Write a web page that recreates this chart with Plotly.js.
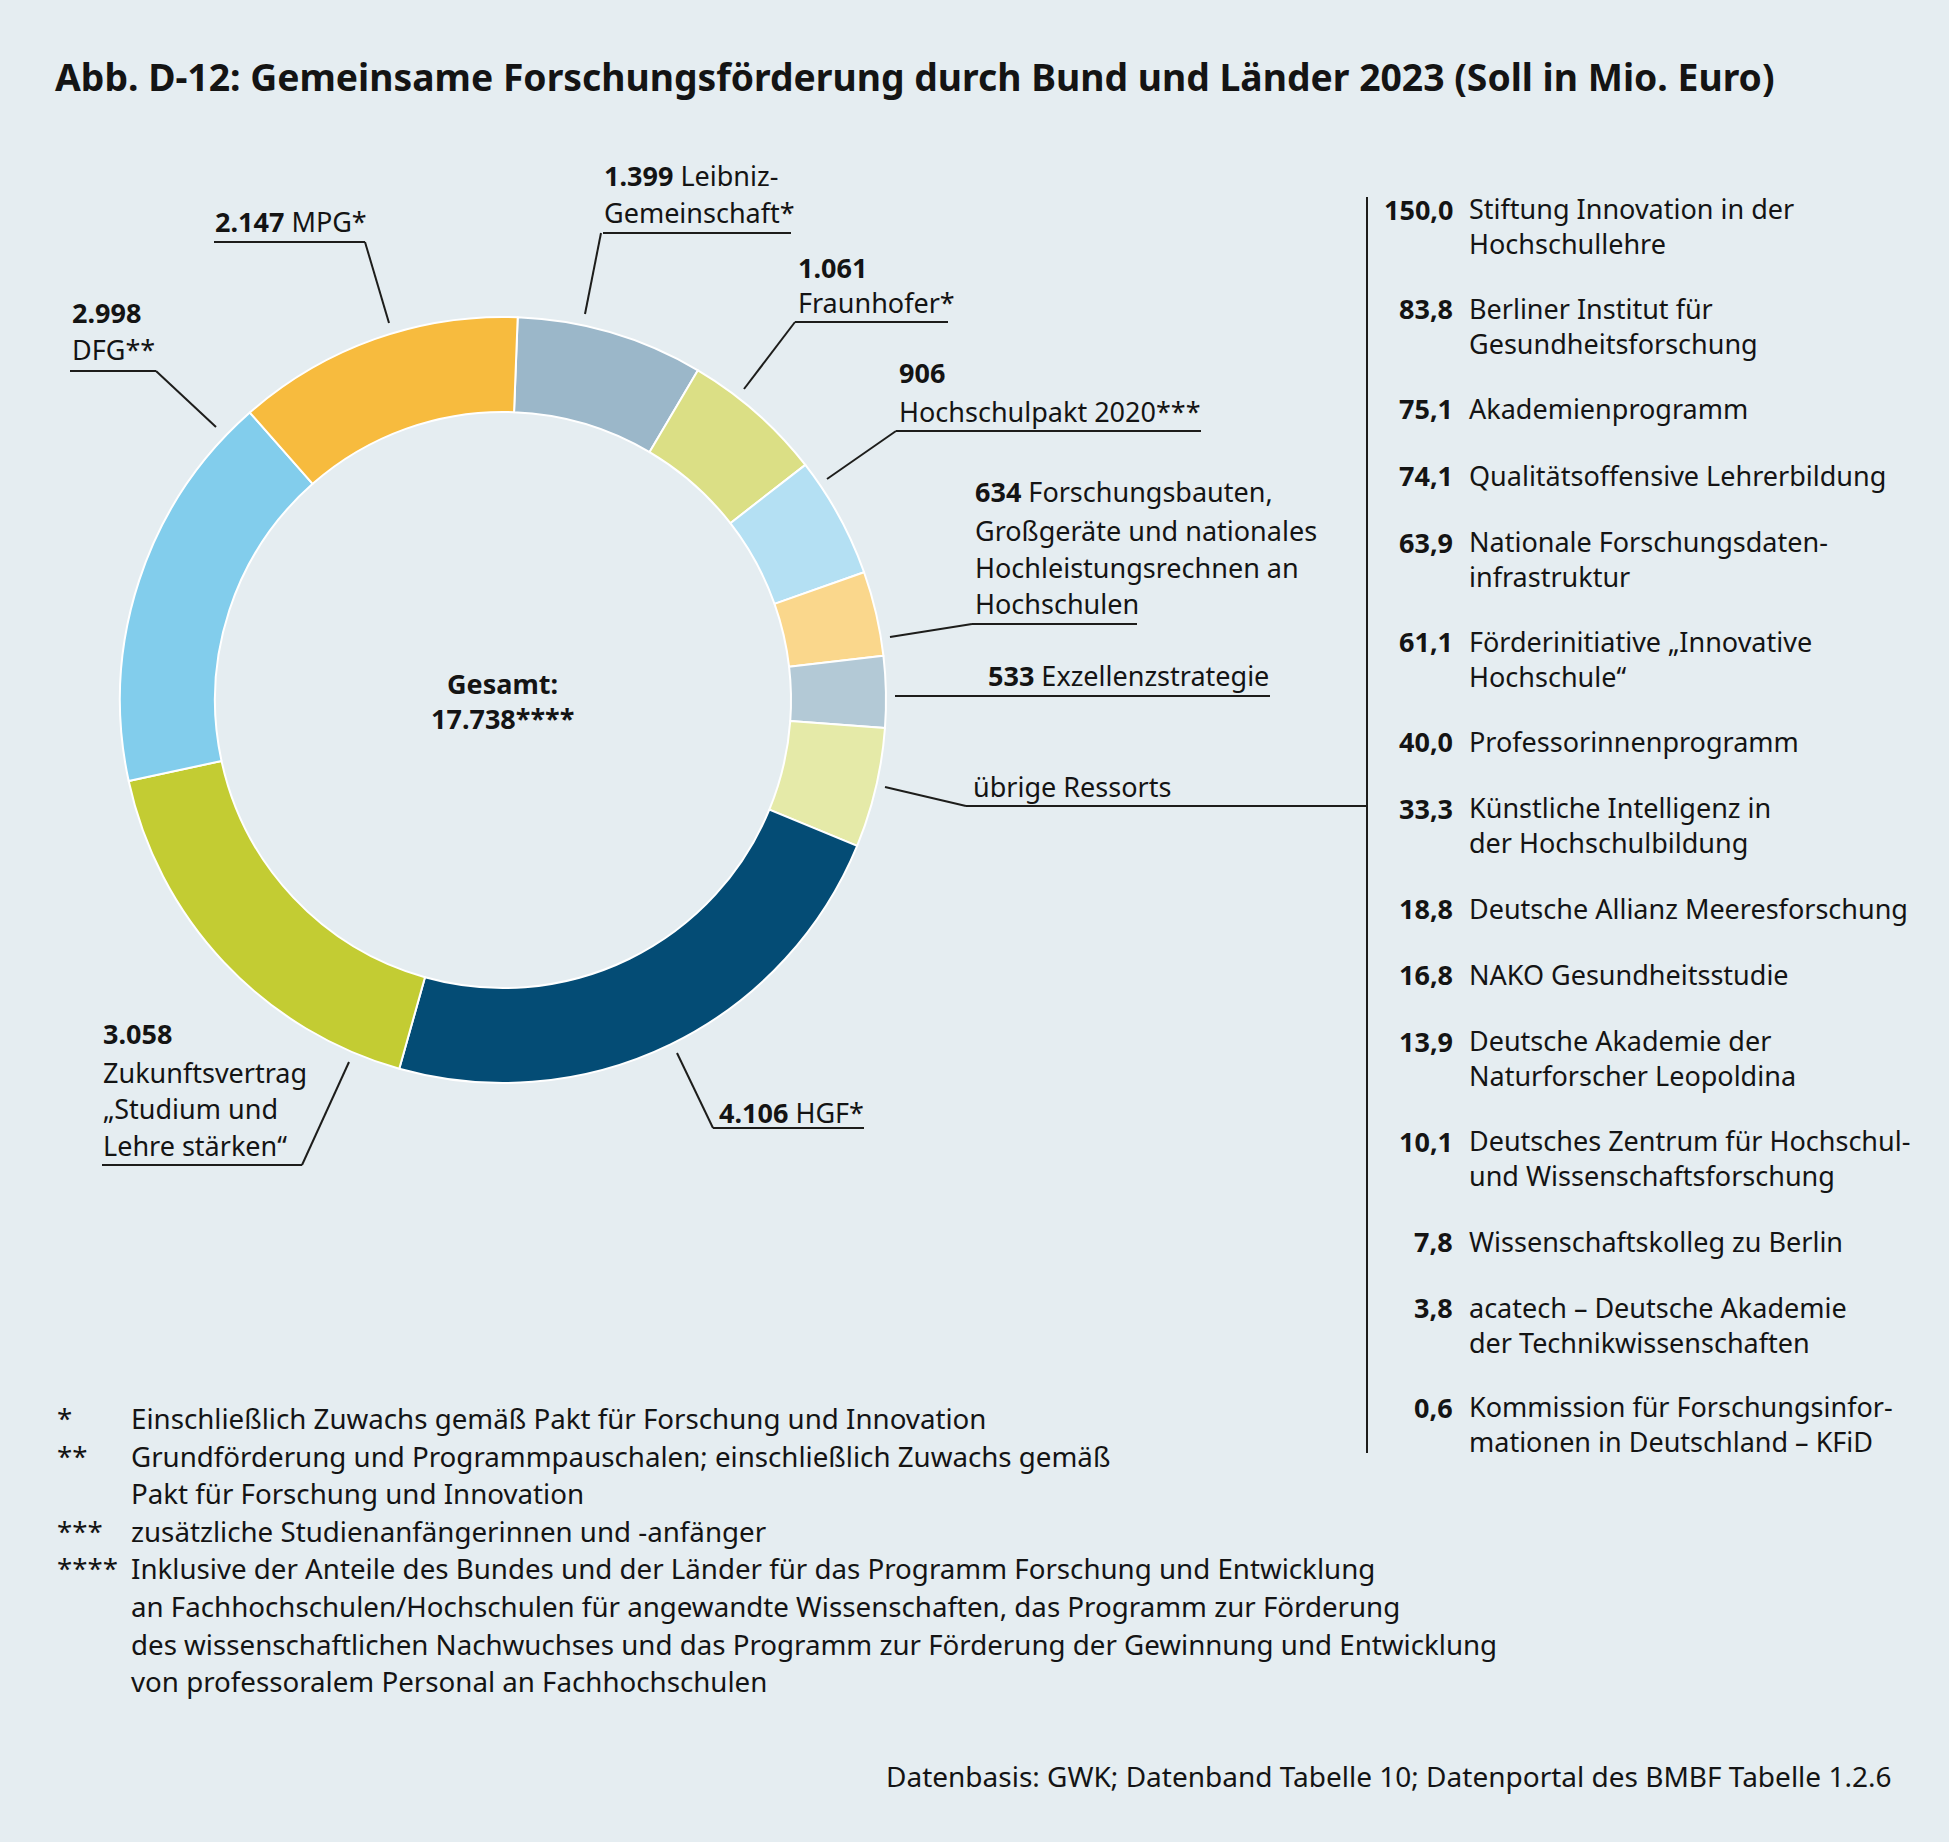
<!DOCTYPE html>
<html>
<head>
<meta charset="utf-8">
<script src="https://cdn.plot.ly/plotly-3.0.1.min.js"></script>
<style>
  html, body { margin: 0; padding: 0; background: #e5edf1; }
  #chart { width: 1949px; height: 1842px; }
</style>
</head>
<body>
<div id="chart"></div>
<script>
// ---------------- DATA ----------------
const titleText = 'Abb. D-12: Gemeinsame Forschungsförderung durch Bund und Länder 2023 (Soll in Mio. Euro)';
const categories = [
  'Leibniz-\nGemeinschaft*',
  'Fraunhofer*',
  'Hochschulpakt 2020***',
  'Forschungsbauten,\nGroßgeräte und nationales\nHochleistungsrechnen an\nHochschulen',
  'Exzellenzstrategie',
  'übrige Ressorts',
  'HGF*',
  'Zukunftsvertrag\n„Studium und\nLehre stärken“',
  'DFG**',
  'MPG*'
];
const values = [1399, 1061, 906, 634, 533, 896, 4106, 3058, 2998, 2147];
const showValue = [true, true, true, true, true, false, true, true, true, true];
const colors = ['#9bb7c9', '#dbdf85', '#b4e0f3', '#fad78c', '#b3c9d6', '#e5eaa8', '#044c75', '#c3cc33', '#82cdec', '#f7bb3e'];
const totalLabel = 'Gesamt:';
const totalValue = 17738;
const totalMark = '****';

const subCategories = [
  'Stiftung Innovation in der\nHochschullehre',
  'Berliner Institut für\nGesundheitsforschung',
  'Akademienprogramm',
  'Qualitätsoffensive Lehrerbildung',
  'Nationale Forschungsdaten-\ninfrastruktur',
  'Förderinitiative „Innovative\nHochschule“',
  'Professorinnenprogramm',
  'Künstliche Intelligenz in\nder Hochschulbildung',
  'Deutsche Allianz Meeresforschung',
  'NAKO Gesundheitsstudie',
  'Deutsche Akademie der\nNaturforscher Leopoldina',
  'Deutsches Zentrum für Hochschul-\nund Wissenschaftsforschung',
  'Wissenschaftskolleg zu Berlin',
  'acatech – Deutsche Akademie\nder Technikwissenschaften',
  'Kommission für Forschungsinfor-\nmationen in Deutschland – KFiD'
];
const subValues = [150.0, 83.8, 75.1, 74.1, 63.9, 61.1, 40.0, 33.3, 18.8, 16.8, 13.9, 10.1, 7.8, 3.8, 0.6];

const footnoteMarks = ['*', '**', '', '***', '****', '', '', ''];
const footnoteLines = [
  'Einschließlich Zuwachs gemäß Pakt für Forschung und Innovation',
  'Grundförderung und Programmpauschalen; einschließlich Zuwachs gemäß',
  'Pakt für Forschung und Innovation',
  'zusätzliche Studienanfängerinnen und -anfänger',
  'Inklusive der Anteile des Bundes und der Länder für das Programm Forschung und Entwicklung',
  'an Fachhochschulen/Hochschulen für angewandte Wissenschaften, das Programm zur Förderung',
  'des wissenschaftlichen Nachwuchses und das Programm zur Förderung der Gewinnung und Entwicklung',
  'von professoralem Personal an Fachhochschulen'
];
const sourceText = 'Datenbasis: GWK; Datenband Tabelle 10; Datenportal des BMBF Tabelle 1.2.6';

// ---------------- LAYOUT GEOMETRY ----------------
const W = 1949, H = 1842;
const BG = '#e5edf1', TXT = '#141414', LINE = '#1d1d1b';
const FONT = '"Noto Sans", "Open Sans", sans-serif';
const FS = 27;
const CX = 503, CY = 700, R = 383, HOLE = 0.752;

const px = x => x / W;
const py = y => 1 - y / H;
const fmtInt = n => String(n).replace(/\B(?=(\d{3})+(?!\d))/g, '.');
const fmtDec = n => n.toFixed(1).replace('.', ',');

function ann(x, y, text, opts) {
  return Object.assign({
    xref: 'paper', yref: 'paper', x: px(x), y: py(y), text: text,
    showarrow: false, xanchor: 'left', yanchor: 'middle', align: 'left',
    borderpad: 0, font: { family: FONT, size: FS, color: TXT }
  }, opts || {});
}
function seg(x0, y0, x1, y1) {
  return { type: 'line', xref: 'paper', yref: 'paper',
    x0: px(x0), y0: py(y0), x1: px(x1), y1: py(y1),
    line: { color: LINE, width: 2 } };
}

// label placement per category (same order as categories)
const placements = [
  { x: 603, ys: [175, 212], inline: true, ul: [603, 791, 233], lead: [601, 233, 585, 314] },
  { x: 797, ys: [267, 303], inline: false, ul: [795, 948, 322], lead: [795, 322, 744, 389] },
  { x: 898, ys: [373, 411], inline: false, ul: [896, 1201, 431], lead: [896, 431, 827, 479] },
  { x: 974, ys: [491, 530, 567, 604], inline: true, ul: [972, 1137, 624], lead: [972, 624, 890, 637] },
  { x: 1270, ys: [676], inline: true, anchor: 'right', ul: [895, 1270, 696], lead: null },
  { x: 972, ys: [787], inline: true, ul: [966, 1367, 806], lead: [966, 806, 885, 787] },
  { x: 718, ys: [1112], inline: true, ul: [713, 864, 1128], lead: [713, 1128, 677, 1053] },
  { x: 102, ys: [1033, 1072, 1108, 1145], inline: false, ul: [102, 302, 1165], lead: [302, 1165, 349, 1062] },
  { x: 71, ys: [313, 350], inline: false, ul: [70, 156, 371], lead: [156, 371, 216, 427] },
  { x: 214, ys: [221], inline: true, ul: [214, 365, 242], lead: [365, 242, 389, 323] }
];

const annotations = [];
const shapes = [];

categories.forEach((cat, i) => {
  const p = placements[i];
  const nameLines = cat.split('\n');
  let lines;
  if (!showValue[i]) lines = nameLines.slice();
  else if (p.inline) lines = ['<b>' + fmtInt(values[i]) + '</b> ' + nameLines[0]].concat(nameLines.slice(1));
  else lines = ['<b>' + fmtInt(values[i]) + '</b>'].concat(nameLines);
  lines.forEach((t, k) => {
    annotations.push(ann(p.x, p.ys[k], t, { xanchor: p.anchor || 'left' }));
  });
  shapes.push(seg(p.ul[0], p.ul[2], p.ul[1], p.ul[2]));
  if (p.lead) shapes.push(seg(p.lead[0], p.lead[1], p.lead[2], p.lead[3]));
});

// centre text
annotations.push(ann(CX, 684, '<b>' + totalLabel + '</b>', { xanchor: 'center', align: 'center' }));
annotations.push(ann(CX, 719, '<b>' + fmtInt(totalValue) + totalMark + '</b>', { xanchor: 'center', align: 'center' }));

// right-hand list of "übrige Ressorts"
const LIST_NUM_X = 1454, LIST_TXT_X = 1468, LIST_Y0 = 209, LIST_STEP = 33.3;
let li = 0;
subCategories.forEach((name, i) => {
  const ls = name.split('\n');
  annotations.push(ann(LIST_NUM_X, LIST_Y0 + li * LIST_STEP, '<b>' + fmtDec(subValues[i]) + '</b>', { xanchor: 'right', align: 'right' }));
  const midY = LIST_Y0 + (li + (ls.length - 1) / 2) * LIST_STEP;
  annotations.push(ann(LIST_TXT_X, midY, ls.join('<br>')));
  li += ls.length + 1;
});
shapes.push(seg(1367, 197, 1367, 1453));

// footnotes
const FN_Y0 = 1418, FN_STEP = 37.6, FN_FS = 27.7;
footnoteLines.forEach((t, i) => {
  if (footnoteMarks[i]) annotations.push(ann(56, FN_Y0 + i * FN_STEP, footnoteMarks[i], { font: { family: FONT, size: FN_FS, color: TXT } }));
  annotations.push(ann(130, FN_Y0 + i * FN_STEP, t, { font: { family: FONT, size: FN_FS, color: TXT } }));
});

// source
annotations.push(ann(1892, 1776, sourceText, { xanchor: 'right', align: 'right', font: { family: FONT, size: 28, color: TXT } }));

const trace = {
  type: 'pie',
  labels: categories.map(c => c.replace(/\n/g, ' ')),
  values: values,
  sort: false,
  direction: 'clockwise',
  rotation: 2.2,
  hole: HOLE,
  textinfo: 'none',
  hoverinfo: 'none',
  marker: { colors: colors, line: { color: '#ffffff', width: 2 } },
  domain: { x: [px(CX - R), px(CX + R)], y: [py(CY + R), py(CY - R)] }
};

const layout = {
  width: W, height: H,
  margin: { l: 0, r: 0, t: 0, b: 0 },
  paper_bgcolor: BG, plot_bgcolor: BG,
  showlegend: false,
  font: { family: FONT, size: FS, color: TXT },
  title: {
    text: '<b>' + titleText + '</b>',
    font: { family: FONT, size: 37.3, color: TXT },
    x: px(55), xanchor: 'left', xref: 'paper',
    y: py(78), yanchor: 'middle', yref: 'container'
  },
  annotations: annotations,
  shapes: shapes
};

Plotly.newPlot('chart', [trace], layout, { staticPlot: true, displayModeBar: false });
</script>
</body>
</html>
